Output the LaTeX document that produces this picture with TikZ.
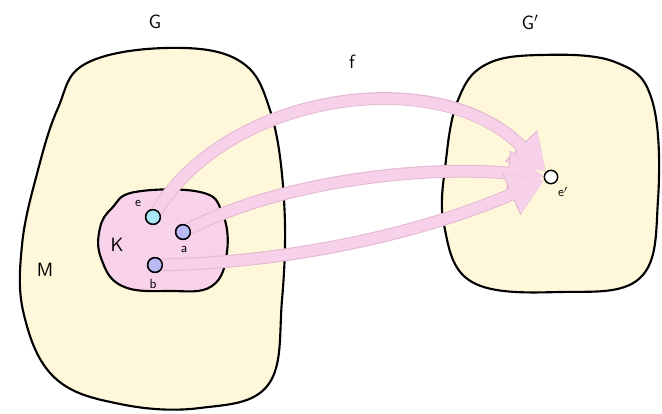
\documentclass[tikz,border=0pt]{standalone}
\usetikzlibrary{arrows.meta}
\definecolor{gfill}{HTML}{FFF7DA}
\definecolor{kfill}{HTML}{F8D2EA}
\definecolor{mappink}{HTML}{F7D1EA}
\definecolor{mapedge}{HTML}{E4BBD2}
\definecolor{ecyan}{HTML}{A6E6F6}
\definecolor{ablue}{HTML}{BABAF6}
\tikzset{
  blob/.style={draw=black,line width=1.6pt,line join=round},
  pt/.style={draw=black,circle,line width=1.1pt,inner sep=0pt,minimum size=11pt},
  maparrow/.style={draw=mappink,line width=8pt,line cap=round,
    -{Triangle[length=26pt,width=30pt]},
    preaction={draw=mapedge,line width=9.6pt,line cap=round,
      -{Triangle[length=27pt,width=32pt]}}},
  lbl/.style={font=\sffamily\Large},
  sm/.style={font=\sffamily}
}
\begin{document}
\begin{tikzpicture}[x=0.75pt,y=-0.75pt]
\useasboundingbox (0,0) rectangle (662,414);
% the two groups
\draw[blob,fill=gfill] plot[smooth cycle,tension=0.65] coordinates {(85,64) (165,48) (238,60) (270,110) (284,200) (282,300) (268,385) (200,408) (120,404) (55,378) (24,315) (22,245) (38,170) (58,108)};
\draw[blob,fill=gfill] plot[smooth cycle,tension=0.65] coordinates {(485,65) (540,55) (615,62) (652,100) (658,200) (640,278) (560,292) (472,282) (444,225) (446,160) (458,100)};
% the subgroup
\draw[blob,fill=kfill] plot[smooth cycle,tension=0.7] coordinates {(112,208) (135,192) (200,192) (222,212) (227,252) (212,286) (170,291) (122,286) (101,258) (100,228)};
% points
\node[pt,fill=ecyan] (e) at (153,217) {};
\node[pt,fill=ablue] (a) at (183,232) {};
\node[pt,fill=ablue] (b) at (155,265) {};
\node[pt,fill=white,minimum size=10pt] (e2) at (551,177) {};
% the map f
\draw[maparrow] (e) .. controls (230,92) and (440,62) .. (e2);
\draw[maparrow] (a) .. controls (280,182) and (420,165) .. (e2);
\draw[maparrow] (b) .. controls (300,262) and (430,230) .. (e2);
\node[pt,fill=ecyan] at (e) {};
\node[pt,fill=ablue] at (a) {};
\node[pt,fill=ablue] at (b) {};
% labels
\node[lbl] (lG) at (155,22) {G};
\node[lbl] (lG2) at (530,22) {G$'$};
\node[lbl] (lf) at (352,62) {f};
\node[lbl] (lM) at (45,270) {M};
\node[lbl] (lK) at (117,245) {K};
\node[sm] (le) at (138,203) {e};
\node[sm] (la) at (184,249) {a};
\node[sm] (lb) at (153,284) {b};
\node[sm] (le2) at (563,192) {e$'$};
\end{tikzpicture}
\end{document}
